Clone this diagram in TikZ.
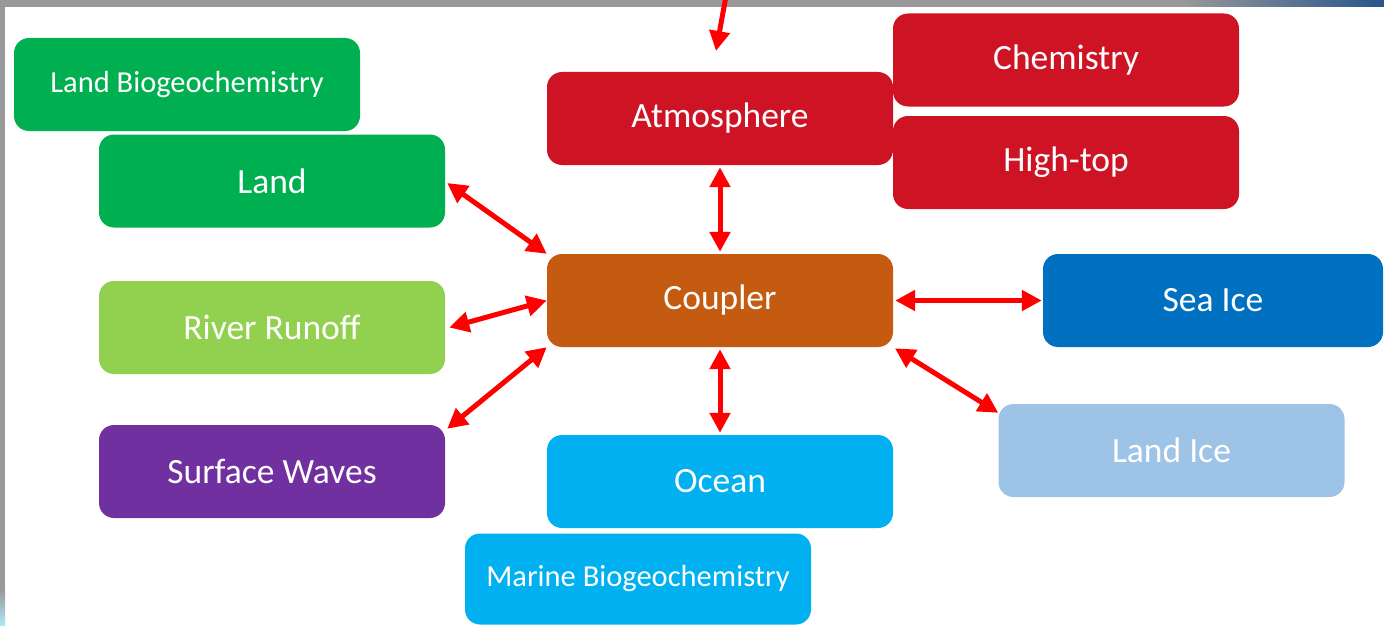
\documentclass[tikz,border=0pt]{standalone}
\usepackage{fontspec}
\setmainfont{Carlito}
\usetikzlibrary{arrows.meta,calc}
\definecolor{cgreen}{RGB}{0,176,80}
\definecolor{clgreen}{RGB}{146,208,80}
\definecolor{cpurple}{RGB}{112,48,160}
\definecolor{cred}{RGB}{206,19,36}
\definecolor{corange}{RGB}{197,90,17}
\definecolor{cblue}{RGB}{0,112,192}
\definecolor{clblue}{RGB}{157,195,230}
\definecolor{ccyan}{RGB}{0,176,240}
\definecolor{cframe}{RGB}{153,153,153}
\definecolor{cdeep}{RGB}{40,85,140}
\tikzset{
  box/.style={rounded corners=15pt, inner sep=0pt, minimum width=346pt, minimum height=93pt,
    text=white, font=\fontsize{35.5}{42}\selectfont},
  smallbox/.style={box, font=\fontsize{30.5}{36}\selectfont},
  link/.style={draw=red, line width=5pt, {Triangle[length=20pt,width=20pt]}-{Triangle[length=20pt,width=20pt]}},
  onelink/.style={draw=red, line width=5pt, -{Triangle[length=20pt,width=20pt]}}
}
\begin{document}
\begin{tikzpicture}[x=1pt,y=-1pt]
\useasboundingbox (0,0) rectangle (1384,626);
\fill[white] (0,0) rectangle (1384,626);
\fill[cframe] (0,0) rectangle (1384,7);
\shade[left color=cframe, right color=cdeep] (1180,0) rectangle (1384,7);
\fill[cframe] (0,0) rectangle (5,626);
\shade[top color=cframe, bottom color=ccyan!30] (0,590) rectangle (5,626);

\node[smallbox, fill=cgreen] (lbio) at (187,84.5) {Land Biogeochemistry};
\node[box, fill=cgreen] (land) at (272,181) {Land};
\node[box, fill=clgreen] (river) at (272,327.5) {River Runoff};
\node[box, fill=cpurple] (waves) at (272,471.5) {Surface Waves};
\node[box, fill=cred] (atm) at (720,118.5) {\raisebox{3pt}{Atmosphere}};
\node[box, fill=cred] (chem) at (1066,60) {Chemistry};
\node[box, fill=cred] (high) at (1066,162.5) {\raisebox{-2pt}{High-top}};
\node[box, fill=corange] (coupler) at (720,300.5) {Coupler};
\node[box, fill=cblue, minimum width=340pt] (seaice) at (1213,300.5) {Sea Ice};
\node[box, fill=clblue] (landice) at (1171.5,450.5) {Land Ice};
\node[box, fill=ccyan] (ocean) at (720,481.5) {Ocean};
\node[smallbox, fill=ccyan, minimum height=91pt] (marine) at (638,579) {Marine Biogeochemistry};

\coordinate (src) at (726,-4);
\coordinate (dst) at (716,51);
\draw[onelink] (src) -- (dst);

\draw[link] ($(land.east)+(2,2)$) -- (coupler.north west);
\draw[link] ($(river.east)+(4,0)$) -- (coupler.west);
\draw[link] ($(waves.north east)+(2,4)$) -- (coupler.south west);
\draw[link, shorten <=2pt, shorten >=2pt] (atm.south) -- (coupler.north);
\draw[link, shorten <=2pt, shorten >=2pt] (coupler.south) -- (ocean.north);
\draw[link, shorten <=2pt, shorten >=1pt] (coupler.east) -- (seaice.west);
\draw[link, shorten <=2pt] (coupler.south east) -- ($(landice.north west)+(0,9)$);
\end{tikzpicture}
\end{document}
